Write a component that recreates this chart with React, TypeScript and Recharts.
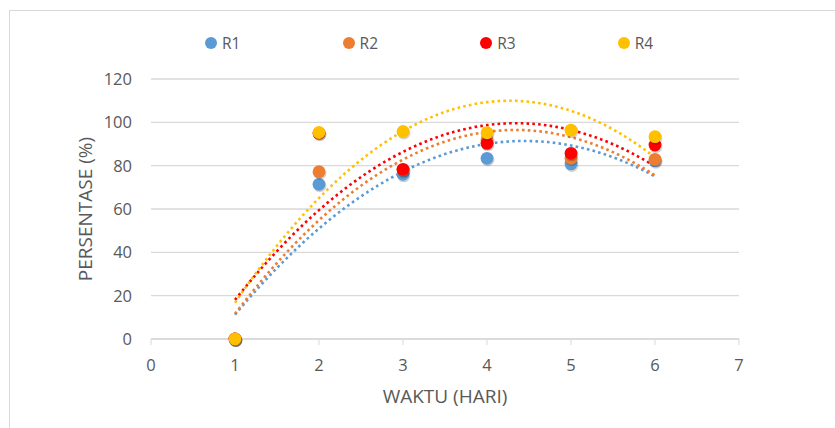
import { ComposedChart, Scatter, Line, XAxis, YAxis, CartesianGrid, Label } from "recharts";

const days = [1, 2, 3, 4, 5, 6];
const r1 = [0, 71.4, 76, 83.4, 80.8, 82.3];
const r2 = [0, 77.2, 78, 92, 83.4, 82.9];
const r3 = [0, 95, 78.3, 90.3, 85.7, 89.5];
const r4 = [0, 95.3, 95.8, 95.2, 96.4, 93.4];

const seriesNames = ["R1", "R2", "R3", "R4"];
const seriesColors = ["#5B9BD5", "#ED7D31", "#FF0000", "#FFC000"];
const seriesValues = [r1, r2, r3, r4];

const xTicks = [0, 1, 2, 3, 4, 5, 6, 7];
const yTicks = [0, 20, 40, 60, 80, 100, 120];

const FONT = "'Open Sans', sans-serif";
const TEXT = "#595959";
const GRID = "#d9d9d9";

// least squares fit y = a + b*x + c*x^2 (Excel polynomial trendline, order 2)
function fitQuadratic(xs: number[], ys: number[]) {
  let s0 = 0, s1 = 0, s2 = 0, s3 = 0, s4 = 0, t0 = 0, t1 = 0, t2 = 0;
  xs.forEach((x, i) => {
    const y = ys[i];
    s0 += 1; s1 += x; s2 += x * x; s3 += x * x * x; s4 += x * x * x * x;
    t0 += y; t1 += x * y; t2 += x * x * y;
  });
  const det = (m: number[][]) =>
    m[0][0] * (m[1][1] * m[2][2] - m[1][2] * m[2][1]) -
    m[0][1] * (m[1][0] * m[2][2] - m[1][2] * m[2][0]) +
    m[0][2] * (m[1][0] * m[2][1] - m[1][1] * m[2][0]);
  const M = [[s0, s1, s2], [s1, s2, s3], [s2, s3, s4]];
  const T = [t0, t1, t2];
  const D = det(M);
  const col = (k: number) => M.map((row, i) => row.map((v, j) => (j === k ? T[i] : v)));
  return { a: det(col(0)) / D, b: det(col(1)) / D, c: det(col(2)) / D };
}

function trendPoints(ys: number[]) {
  const { a, b, c } = fitQuadratic(days, ys);
  const first = days[0];
  const last = days[days.length - 1];
  const steps = 50;
  return Array.from({ length: steps + 1 }, (_, i) => {
    const x = first + ((last - first) * i) / steps;
    return { x, y: a + b * x + c * x * x };
  });
}

const MarkerDot = (props: any) => {
  const { cx, cy, fill } = props;
  if (cx == null || cy == null) return null;
  return (
    <g>
      <circle cx={cx + 0.8} cy={cy + 1.4} r={6.6} fill="#000" opacity={0.18} />
      <circle cx={cx} cy={cy} r={6.4} fill={fill} />
    </g>
  );
};

const YTitle = (props: any) => {
  const vb = props.viewBox || { x: 0, y: 0, width: 0, height: 0 };
  const x = vb.x - 6;
  const y = vb.y + vb.height / 2;
  return (
    <text x={x} y={y} transform={`rotate(-90 ${x} ${y})`} textAnchor="middle" dominantBaseline="central"
      fill={TEXT} fontSize={19} fontFamily={FONT}>
      PERSENTASE (%)
    </text>
  );
};

export default function App() {
  const points = seriesValues.map((vals) => days.map((d, i) => ({ x: d, y: vals[i] })));
  const trends = seriesValues.map((vals) => trendPoints(vals));

  return (
    <div style={{ position: "absolute", left: 0, top: 0, width: 835, height: 428, overflow: "hidden", background: "#fff" }}>
      <div style={{ position: "absolute", left: 9, top: 10, width: 840, height: 430, border: `1px solid ${GRID}` }} />

      <div style={{ position: "absolute", top: 33, left: 205, display: "flex", fontFamily: FONT, fontSize: 15.5, color: TEXT }}>
        {seriesNames.map((name, i) => (
          <div key={name} style={{ width: 137.6, display: "flex", alignItems: "center", height: 20 }}>
            <span style={{ width: 12, height: 12, borderRadius: "50%", background: seriesColors[i], marginRight: 5 }} />
            <span>{name}</span>
          </div>
        ))}
      </div>

      <ComposedChart width={835} height={428} margin={{ top: 79, right: 96, left: 91, bottom: 59 }}
        style={{ position: "absolute", left: 0, top: 0 }}>
        <CartesianGrid vertical={false} stroke={GRID} strokeWidth={1.3} />
        <XAxis type="number" dataKey="x" domain={[0, 7]} ticks={xTicks} height={30}
          axisLine={{ stroke: GRID, strokeWidth: 1.3 }} tickLine={{ stroke: GRID }} tickSize={6} tickMargin={14}
          tick={{ fill: TEXT, fontSize: 16.5, fontFamily: FONT }}>
          <Label value="WAKTU (HARI)" position="bottom" offset={21} fill={TEXT} fontSize={19} fontFamily={FONT} />
        </XAxis>
        <YAxis type="number" dataKey="y" domain={[0, 120]} ticks={yTicks} width={60}
          axisLine={false} tickLine={false} tickSize={0} tickMargin={19}
          tick={{ fill: TEXT, fontSize: 16.5, fontFamily: FONT }}>
          <Label content={<YTitle />} />
        </YAxis>
        {points.map((data, i) => (
          <Scatter key={seriesNames[i]} name={seriesNames[i]} data={data} fill={seriesColors[i]}
            shape={<MarkerDot />} isAnimationActive={false} />
        ))}
        {trends.map((data, i) => (
          <Line key={"trend-" + seriesNames[i]} data={data} dataKey="y" type="monotone"
            stroke={seriesColors[i]} strokeWidth={2.6} strokeDasharray="2.6 3.2" dot={false}
            activeDot={false} legendType="none" isAnimationActive={false} />
        ))}
      </ComposedChart>
    </div>
  );
}
